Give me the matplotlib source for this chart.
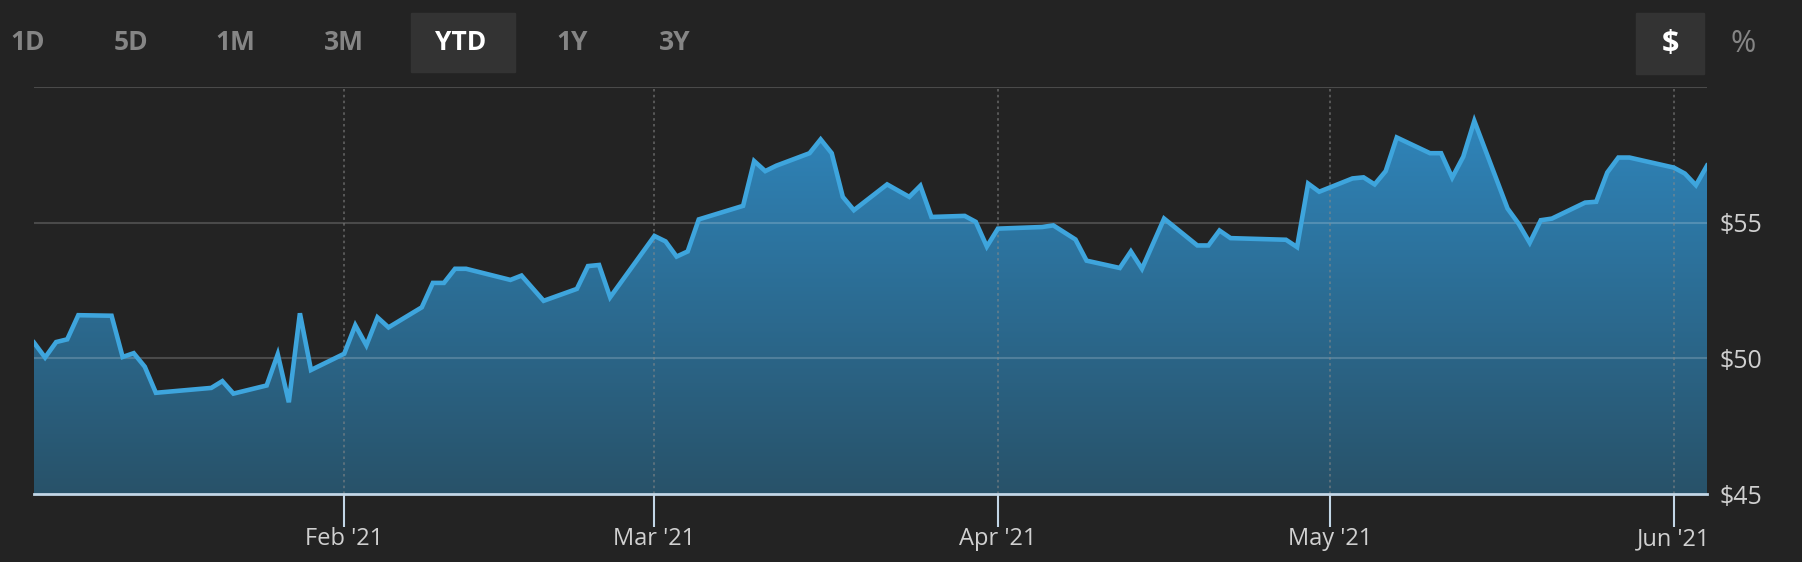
import numpy as np
import pandas as pd
import matplotlib
matplotlib.use("Agg")
import matplotlib.pyplot as plt
import matplotlib.dates as mdates
from matplotlib.colors import LinearSegmentedColormap

# precios YTD
dates = ["2021-01-04", "2021-01-05", "2021-01-06", "2021-01-07", "2021-01-08",
         "2021-01-11", "2021-01-12", "2021-01-13", "2021-01-14", "2021-01-15",
         "2021-01-20", "2021-01-21", "2021-01-22", "2021-01-25", "2021-01-26",
         "2021-01-27", "2021-01-28", "2021-01-29", "2021-02-01", "2021-02-02",
         "2021-02-03", "2021-02-04", "2021-02-05", "2021-02-08", "2021-02-09",
         "2021-02-10", "2021-02-11", "2021-02-12", "2021-02-16", "2021-02-17",
         "2021-02-19", "2021-02-22", "2021-02-23", "2021-02-24", "2021-02-25",
         "2021-03-01", "2021-03-02", "2021-03-03", "2021-03-04", "2021-03-05",
         "2021-03-09", "2021-03-10", "2021-03-11", "2021-03-12", "2021-03-15",
         "2021-03-16", "2021-03-17", "2021-03-18", "2021-03-19", "2021-03-22",
         "2021-03-24", "2021-03-25", "2021-03-26", "2021-03-29", "2021-03-30",
         "2021-03-31", "2021-04-01", "2021-04-05", "2021-04-06", "2021-04-08",
         "2021-04-09", "2021-04-12", "2021-04-13", "2021-04-14", "2021-04-16",
         "2021-04-19", "2021-04-20", "2021-04-21", "2021-04-22", "2021-04-27",
         "2021-04-28", "2021-04-29", "2021-04-30", "2021-05-03", "2021-05-04",
         "2021-05-05", "2021-05-06", "2021-05-07", "2021-05-10", "2021-05-11",
         "2021-05-12", "2021-05-13", "2021-05-14", "2021-05-17", "2021-05-18",
         "2021-05-19", "2021-05-20", "2021-05-21", "2021-05-24", "2021-05-25",
         "2021-05-26", "2021-05-27", "2021-05-28", "2021-06-01", "2021-06-02",
         "2021-06-03", "2021-06-04"]
prices = [50.58, 50.03, 50.60, 50.70, 51.59,
          51.57, 50.05, 50.19, 49.69, 48.73,
          48.91, 49.16, 48.70, 49.00, 50.15,
          48.38, 51.66, 49.57, 50.17, 51.22,
          50.48, 51.51, 51.14, 51.88, 52.78,
          52.78, 53.30, 53.30, 52.89, 53.05,
          52.12, 52.56, 53.40, 53.44, 52.25,
          54.51, 54.31, 53.75, 53.94, 55.12,
          55.62, 57.27, 56.90, 57.10, 57.56,
          58.07, 57.56, 55.95, 55.46, 56.41,
          55.95, 56.36, 55.21, 55.25, 55.03,
          54.12, 54.78, 54.84, 54.90, 54.38,
          53.60, 53.33, 53.94, 53.30, 55.15,
          54.16, 54.16, 54.71, 54.43, 54.37,
          54.10, 56.44, 56.14, 56.63, 56.67,
          56.41, 56.90, 58.14, 57.56, 57.56,
          56.66, 57.43, 58.75, 55.52, 54.96,
          54.26, 55.09, 55.15, 55.74, 55.77,
          56.85, 57.40, 57.40, 57.03, 56.81,
          56.38, 57.10]

ranges = ["1D", "5D", "1M", "3M", "YTD", "1Y", "3Y"]
range_x = [28, 131, 235, 344, 461, 572, 675]
month_ticks = ["2021-02-01", "2021-03-01", "2021-04-01", "2021-05-01", "2021-06-01"]
month_labels = ["Feb '21", "Mar '21", "Apr '21", "May '21", "Jun '21"]
y_ticks = [45, 50, 55]
y_labels = ["$45", "$50", "$55"]

bg = "#232323"
W, H = 1802, 562
fig = plt.figure(figsize=(W / 100, H / 100), dpi=100, facecolor=bg)
ax = fig.add_axes([34 / W, 1 - 494 / H, (1707 - 34) / W, (494 - 87) / H])
ax.set_facecolor(bg)

x = mdates.date2num(pd.to_datetime(dates))
y = np.array(prices)
ymin, ymax = 45, 60
ax.set_xlim(x[0], x[-1])
ax.set_ylim(ymin, ymax)

# relleno con degradado
cmap = LinearSegmentedColormap.from_list("azul", ["#285269", "#2f85bb"])
grad = np.linspace(0, 1, 256).reshape(-1, 1)
im = ax.imshow(grad, cmap=cmap, aspect="auto", origin="lower",
               extent=[x[0], x[-1], ymin, 58.9], zorder=1)
poly = ax.fill_between(x, y, ymin, color="none", lw=0)
clip = poly.get_paths()[0]
im.set_clip_path(clip, transform=ax.transData)

# grillas
for v in [50, 55, 60]:
    ax.axhline(v, color="white", alpha=0.18, lw=1.5, zorder=2)
xt = mdates.date2num(pd.to_datetime(month_ticks))
for t in xt:
    ax.axvline(t, color="#8a8a8a", alpha=0.6, lw=1.2, ls=(0, (1.5, 2)), zorder=2)

ax.plot(x, y, color="#3ea5dd", lw=3.3, solid_joinstyle="miter", zorder=4)

for s in ["top", "left", "right"]:
    ax.spines[s].set_visible(False)
ax.spines["bottom"].set_color("#c2d6e6")
ax.spines["bottom"].set_linewidth(2)
ax.spines["bottom"].set_zorder(5)

ax.set_xticks(xt)
ax.set_xticklabels(month_labels, family="Open Sans", fontsize=17, color="#d0d0d0")
ax.tick_params(axis="x", length=24, width=1.5, color="#c2d6e6", pad=0)
ax.yaxis.tick_right()
ax.set_yticks(y_ticks)
ax.set_yticklabels(y_labels, family="Open Sans", fontsize=18, color="#d0d0d0")
ax.tick_params(axis="y", length=0, pad=9)

# botones de rango
for lab, bx in zip(ranges, range_x):
    sel = lab == "YTD"
    if sel:
        fig.patches.append(plt.Rectangle((411 / W, 1 - 72 / H), 104 / W, 59 / H,
                                         transform=fig.transFigure, color="#333333"))
    fig.text(bx / W, 1 - 43 / H, lab, ha="center", va="center", family="Open Sans",
             fontsize=19, fontweight="bold", color="white" if sel else "#858585")

fig.patches.append(plt.Rectangle((1636 / W, 1 - 74 / H), 68 / W, 61 / H,
                                 transform=fig.transFigure, color="#333333"))
fig.text(1670 / W, 1 - 44 / H, "$", ha="center", va="center", family="Open Sans",
         fontsize=22, fontweight="bold", color="white")
fig.text(1743 / W, 1 - 44 / H, "%", ha="center", va="center", family="Open Sans",
         fontsize=22, color="#858585")

fig.savefig("out.png", dpi=100, facecolor=bg)
